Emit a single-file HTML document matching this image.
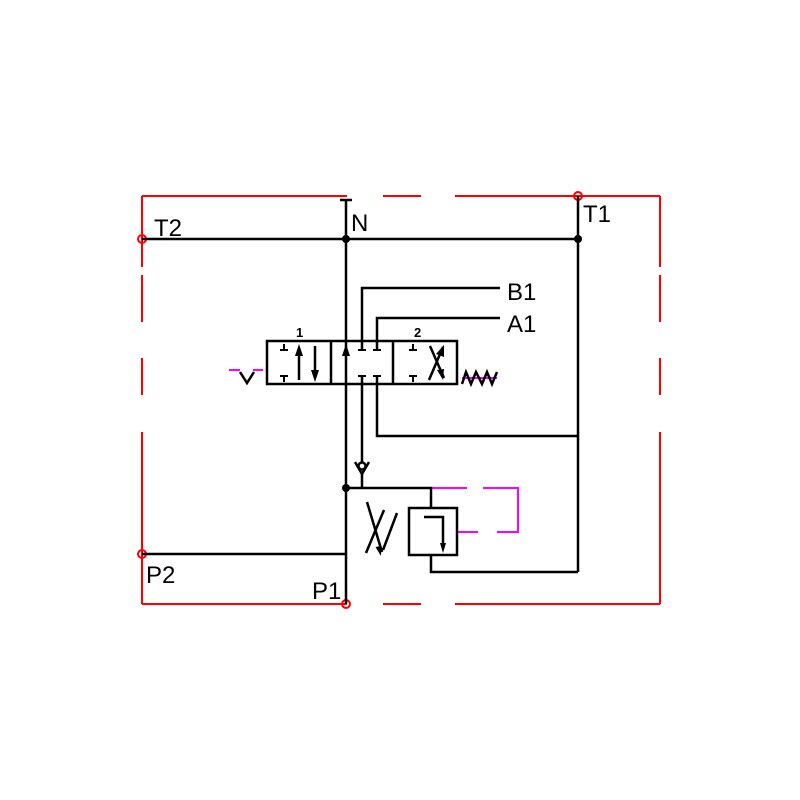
<!DOCTYPE html>
<html><head><style>body{margin:0;background:#fff}svg{display:block}</style></head><body>
<svg width="800" height="800" viewBox="0 0 800 800" xmlns="http://www.w3.org/2000/svg">
<g stroke="#f00" stroke-width="2" fill="none">
<path d="M142 196H347M383 196H421M455 196H660M142 604H347M383 604H421M455 604H660"/>
<path d="M142 196V267M142 275V322M142 358V395M142 432V604M660 196V267M660 275V322M660 358V395M660 432V604"/>
<circle cx="142" cy="239" r="4"/><circle cx="578" cy="196" r="4"/><circle cx="142" cy="554" r="4"/><circle cx="346" cy="604" r="4"/>
</g>
<g stroke="#f0f" stroke-width="2" fill="none">
<path d="M229 370H240M253 370H263M462 378H497"/>
<path d="M431 488H467M483 488H518V532H497M478 532H457"/>
</g>
<g stroke="#000" stroke-width="2.5" fill="none">
<path d="M346 200V604M340 200H352M142 239H578M578 196V572"/>
<path d="M362 350V288H500M377 350V318H500"/>
<path d="M362 376V462M362 474V488M377 376V436H578"/>
<path d="M142 554H346M346 488H431V508M431 555V572H578"/>
<rect x="267" y="341" width="190" height="43"/>
<path d="M331 341V384M393 341V384"/>
<rect x="409" y="508" width="48" height="47"/>
<path d="M424 517H443V545"/>
<path d="M240 372L247 383L254 372"/>
<path d="M462 384L466 372L471 384L476 372L482 384L487 372L492 384L497 372"/>
<path d="M355 462L362 474L369 462"/>
<circle cx="362" cy="466" r="3.5"/>
<path d="M367 502L382 552M384 510L366 553M383 550L397 513"/>
<path d="M299 380V352M315 346V374M430 346L444 378M443 347L429 380"/>
</g>
<g stroke="#000" stroke-width="2" fill="none">
<path d="M284 344V350M280 350H288M284 376V382M280 376H288M362 344V350M358 350H366M377 344V350M373 350H381M362 376V382M358 376H366M377 376H381M373 376H381M413 344V350M409 350H417M413 376V382M409 376H417"/>
</g>
<g fill="#000">
<polygon points="299,344 295,356 303,356"/>
<polygon points="315,382 311,370 319,370"/>
<polygon points="346,344 342,356 350,356"/>
<polygon points="443,553 440,543 446,543"/>
<polygon points="444,345 436,354 444,357"/>
<polygon points="443,380 437,370 444,369"/>
<polygon points="381,556 378,546 384,546" transform="rotate(-15 381 556)"/>
<circle cx="346" cy="239" r="4"/><circle cx="578" cy="239" r="4"/><circle cx="346" cy="488" r="4"/>
</g>
<g font-family="Liberation Sans, sans-serif" font-size="24" fill="#000">
<text x="154" y="236">T2</text>
<text x="351" y="231">N</text>
<text x="583" y="222">T1</text>
<text x="507" y="300">B1</text>
<text x="507" y="332">A1</text>
<text x="146" y="583">P2</text>
<text x="312" y="599">P1</text>
<text x="296" y="337" font-size="13" font-weight="bold">1</text>
<text x="414" y="337" font-size="13" font-weight="bold">2</text>
</g>
</svg>
</body></html>
